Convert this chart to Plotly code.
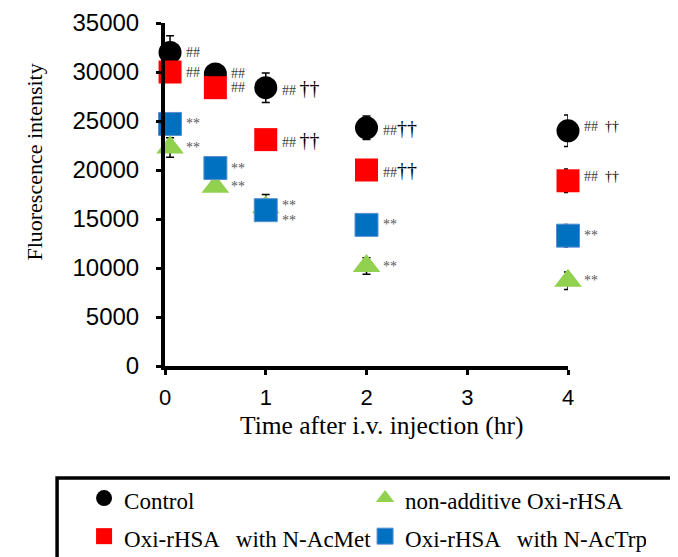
import plotly.graph_objects as go

# ---------------- data ----------------
time_hr = [0.05, 0.5, 1, 2, 4]

control = [32000, 29800, 28400, 24300, 24000]
control_err = [1700, 300, 1500, 1200, 1600]

acmet = [30000, 28400, 23100, 20000, 18900]
acmet_err = [300, 300, 300, 300, 1200]

nonadd = [22300, 18300, 16200, 10200, 8700]
nonadd_err = [1000, 300, 1300, 850, 900]

actrp = [24700, 20200, 15900, 14400, 13300]
actrp_err = [300, 300, 300, 300, 1150]

control_hash = ["##", "##", "##", "##", "##"]
control_dagger = ["", "", "††", "††", "††"]
acmet_hash = ["##", "##", "##", "##", "##"]
acmet_dagger = ["", "", "††", "††", "††"]
nonadd_star = ["**", "**", "**", "**", "**"]
actrp_star = ["**", "**", "**", "**", "**"]

y_tick_vals = [0, 5000, 10000, 15000, 20000, 25000, 30000, 35000]
y_tick_text = ["0", "5000", "10000", "15000", "20000", "25000", "30000", "35000"]
x_tick_vals = [0, 1, 2, 3, 4]
x_tick_text = ["0", "1", "2", "3", "4"]

names = ["Control", "non-additive Oxi-rHSA", "Oxi-rHSA   with N-AcMet", "Oxi-rHSA   with N-AcTrp"]

# ---------------- styles / layout geometry (screen pixels) ----------------
OFF = 8                     # page body margin
W, H = 678 - OFF, 557 - OFF
Ls, Rs, Ts, Bs = 165, 568.3, 23, 366   # plot area on screen
pw, ph = Rs - Ls, Bs - Ts

def px_x(p):
    return (p - Ls) / pw

def px_y(p):
    return (Bs - p) / ph

SERIF = "Liberation Serif, Times New Roman, serif"
SANS = "Liberation Sans, Arial, sans-serif"

dagger_size = [0, 0, 20, 20, 14]
dagger_gap = ["", "", " ", "", "  "]
hash_yshift = [0, 0, 0, 0, 4]

fig = go.Figure()

def add_series(y, err, name, symbol, color, size, rank, line_color=None):
    fig.add_trace(go.Scatter(
        x=time_hr, y=y, mode="markers", name=f'<span style="font-size:23px">{name}</span>',
        marker=dict(symbol=symbol, color=color, size=size,
                    line=dict(color=line_color or color, width=1 if line_color else 0)),
        error_y=dict(type="data", array=err, visible=True, color="black", thickness=1.5, width=4),
        cliponaxis=False, legendrank=rank,
    ))

add_series(control, control_err, names[0], "circle", "#000000", 23, 1)
add_series(acmet, acmet_err, names[2], "square", "#FF0000", 23, 3)
add_series(nonadd, nonadd_err, names[1], "triangle-up", "#92D050", 24, 2)
add_series(actrp, actrp_err, names[3], "square", "#0070C0", 23, 4, line_color="#5B8FD0")

annotations = []

def mark(x, y, text, color, xshift=14, yshift=0):
    annotations.append(dict(x=x, y=y, xref="x", yref="y", text=text, showarrow=False,
                            xanchor="left", yanchor="middle", xshift=xshift, yshift=yshift,
                            font=dict(family=SERIF, size=14, color=color)))

for i, t in enumerate(time_hr):
    for vals, hashes, daggers in ((control, control_hash, control_dagger), (acmet, acmet_hash, acmet_dagger)):
        txt = hashes[i]
        if daggers[i]:
            txt += dagger_gap[i] + f'<span style="font-size:{dagger_size[i]}px;color:#000000">{daggers[i]}</span>'
        mark(t, vals[i], txt, "#404040", yshift=hash_yshift[i])
    mark(t, actrp[i], actrp_star[i], "#595959", yshift=(-10 if i == 2 else 0))
    mark(t, nonadd[i], nonadd_star[i], "#595959", yshift=(2 if i == 2 else 0))

# axis titles placed as in the reference
annotations.append(dict(x=px_x(34), y=px_y(162.5), xref="paper", yref="paper", text="Fluorescence intensity",
                        textangle=-90, showarrow=False, xanchor="center", yanchor="middle",
                        font=dict(family=SERIF, size=22, color="black")))
annotations.append(dict(x=px_x(381.7), y=px_y(425), xref="paper", yref="paper",
                        text="Time after i.v. injection (hr)", showarrow=False,
                        xanchor="center", yanchor="middle",
                        font=dict(family=SERIF, size=25.5, color="black")))

shapes = [dict(type="rect", xref="paper", yref="paper",
               x0=px_x(57), x1=px_x(677), y0=px_y(478), y1=px_y(565),
               line=dict(color="black", width=3.5), fillcolor="rgba(0,0,0,0)", layer="above")]

fig.update_layout(
    width=W, height=H,
    margin=dict(l=Ls - OFF, r=W - (Rs - OFF), t=Ts - OFF, b=H - (Bs - OFF), autoexpand=False, pad=0),
    paper_bgcolor="white", plot_bgcolor="white",
    showlegend=True,
    legend=dict(orientation="h", x=px_x(84), xanchor="left", y=px_y(474), yanchor="top",
                entrywidth=236, entrywidthmode="pixels", itemsizing="trace",
                font=dict(family=SERIF, size=27, color="black"),
                bgcolor="rgba(0,0,0,0)", borderwidth=0, traceorder="normal"),
    annotations=annotations,
    shapes=shapes,
    xaxis=dict(range=[0, 4], tickvals=x_tick_vals, ticktext=x_tick_text, showgrid=False, zeroline=False,
               showline=True, linecolor="black", linewidth=4, ticks="outside", ticklen=5, tickwidth=3,
               tickcolor="black", tickfont=dict(family=SANS, size=22, color="black"), ticklabelstandoff=4),
    yaxis=dict(range=[0, 35000], tickvals=y_tick_vals, ticktext=y_tick_text, showgrid=False, zeroline=False,
               showline=True, linecolor="black", linewidth=4, ticks="outside", ticklen=5, tickwidth=3,
               tickcolor="black", tickfont=dict(family=SANS, size=24, color="black"), ticklabelstandoff=12),
)

fig.write_html("out.html")
